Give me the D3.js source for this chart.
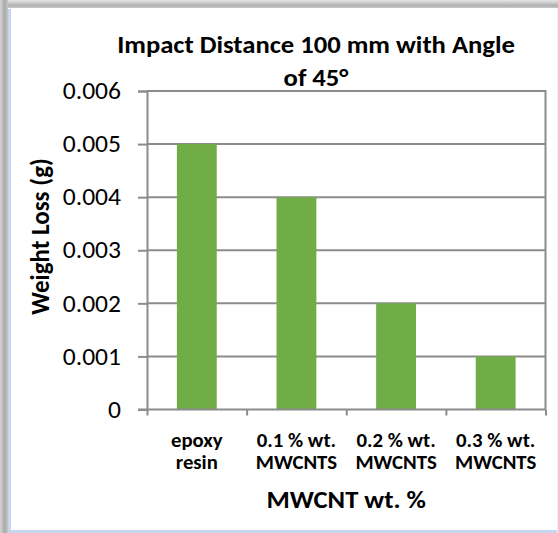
<!DOCTYPE html>
<html>
<head>
<meta charset="utf-8">
<script src="https://cdn.jsdelivr.net/npm/d3@7"></script>
<style>
  html, body { margin: 0; padding: 0; background: #ffffff; }
  svg { display: block; }
  text { font-family: Carlito, Calibri, Lato, "Open Sans", sans-serif; fill: #000; }
</style>
</head>
<body>
<svg id="chart" width="558" height="533"></svg>
<script>
const categories = [["epoxy", "resin"], ["0.1 % wt.", "MWCNTS"], ["0.2 % wt.", "MWCNTS"], ["0.3 % wt.", "MWCNTS"]];
const categoryKeys = ["epoxy resin", "0.1 % wt. MWCNTS", "0.2 % wt. MWCNTS", "0.3 % wt. MWCNTS"];
const weightLoss = [0.005, 0.004, 0.002, 0.001];
const yTicks = [0, 0.001, 0.002, 0.003, 0.004, 0.005, 0.006];
const yTickLabels = ["0", "0.001", "0.002", "0.003", "0.004", "0.005", "0.006"];
const titleLines = ["Impact Distance 100 mm with Angle", "of 45°"];
const yTitle = "Weight Loss (g)";
const xTitle = "MWCNT wt. %";

const svg = d3.select("#chart");
const W = 558, H = 533;
const sx = 1.065; // horizontal stretch of the original picture

// frame / shadow
const defs = svg.append("defs");
const gl = defs.append("linearGradient").attr("id", "shL").attr("x1", 0).attr("x2", 1).attr("y1", 0).attr("y2", 0);
gl.append("stop").attr("offset", 0).attr("stop-color", "#d4d4d4");
gl.append("stop").attr("offset", 0.6).attr("stop-color", "#a9a9a9");
gl.append("stop").attr("offset", 1).attr("stop-color", "#c8c8c8");
const gt = defs.append("linearGradient").attr("id", "shT").attr("x1", 0).attr("x2", 0).attr("y1", 0).attr("y2", 1);
gt.append("stop").attr("offset", 0).attr("stop-color", "#e6e6e6");
gt.append("stop").attr("offset", 0.7).attr("stop-color", "#b0b0b0");
gt.append("stop").attr("offset", 1).attr("stop-color", "#c8c8c8");

svg.append("rect").attr("x", 0).attr("y", 0).attr("width", W).attr("height", 8).attr("fill", "url(#shT)");
svg.append("rect").attr("x", 0).attr("y", 0).attr("width", 8).attr("height", H).attr("fill", "url(#shL)");
svg.append("rect").attr("x", 8).attr("y", 8).attr("width", W - 8).attr("height", H - 8).attr("fill", "#ffffff");
svg.append("line").attr("x1", 9.5).attr("x2", 9.5).attr("y1", 9).attr("y2", H).attr("stroke", "#c6d6ee").attr("stroke-width", 3);
svg.append("line").attr("x1", 9).attr("x2", W).attr("y1", 531.5).attr("y2", 531.5).attr("stroke", "#c6d6ee").attr("stroke-width", 3);
svg.append("line").attr("x1", 557.5).attr("x2", 557.5).attr("y1", 8).attr("y2", H).attr("stroke", "#eef2f8").attr("stroke-width", 1);

// plot area
const plot = { left: 147, right: 545.5, top: 91, bottom: 409.5 };
const x = d3.scaleBand().domain(categoryKeys).range([plot.left, plot.right]).paddingInner(0.6).paddingOuter(0.3);
const xBound = d3.scalePoint().domain(d3.range(categoryKeys.length + 1)).range([plot.left, plot.right]);
const y = d3.scaleLinear().domain([0, 0.006]).range([plot.bottom, plot.top]);

const gridColor = "#8c8c8c";

svg.append("g").selectAll("line").data(yTicks.slice(1)).join("line")
  .attr("x1", plot.left).attr("x2", plot.right)
  .attr("y1", d => y(d)).attr("y2", d => y(d))
  .attr("stroke", gridColor).attr("stroke-width", 2);
svg.append("line").attr("x1", plot.right).attr("x2", plot.right).attr("y1", plot.top - 1).attr("y2", plot.bottom)
  .attr("stroke", gridColor).attr("stroke-width", 2);

// bars
svg.append("g").selectAll("rect").data(weightLoss).join("rect")
  .attr("x", (d, i) => x(categoryKeys[i]))
  .attr("width", x.bandwidth())
  .attr("y", d => y(d))
  .attr("height", d => y(0) - y(d))
  .attr("fill", "#70ad47");

// y axis
const yAxis = d3.axisLeft(y).tickValues(yTicks).tickFormat((d, i) => yTickLabels[i]).tickSize(9).tickPadding(17);
const gy = svg.append("g").attr("transform", `translate(${plot.left},0)`).call(yAxis);
gy.select(".domain").attr("stroke", gridColor).attr("stroke-width", 2);
gy.selectAll(".tick line").attr("stroke", gridColor).attr("stroke-width", 2);
gy.selectAll(".tick text").attr("x", 0).attr("transform", `translate(-26,0) scale(${sx},1)`)
  .style("font-size", "24px").style("font-family", null).attr("fill", "#000");

// x axis (category boundary ticks)
const xAxis = d3.axisBottom(xBound).tickSize(6).tickFormat("");
const gx = svg.append("g").attr("transform", `translate(0,${plot.bottom})`).call(xAxis);
gx.select(".domain").attr("stroke", gridColor).attr("stroke-width", 2).attr("d", `M${plot.left - 9},0H${plot.right}`);
gx.selectAll(".tick line").attr("stroke", gridColor).attr("stroke-width", 2);

// x category labels
const lab = svg.append("g").selectAll("text").data(categories).join("text")
  .attr("transform", (d, i) => `translate(${x(categoryKeys[i]) + x.bandwidth() / 2},0) scale(${sx},1)`)
  .attr("text-anchor", "middle")
  .style("font-size", "19.5px").style("font-weight", "bold");
lab.append("tspan").attr("x", 0).attr("y", 447).text(d => d[0]);
lab.append("tspan").attr("x", 0).attr("y", 469).text(d => d[1]);

// title
svg.append("g").selectAll("text").data(titleLines).join("text")
  .attr("transform", (d, i) => `translate(316,${53 + i * 33}) scale(${sx},1)`)
  .attr("text-anchor", "middle")
  .style("font-size", "25px").style("font-weight", "bold")
  .text(d => d);

// axis titles
svg.append("text").attr("transform", `translate(${(plot.left + plot.right) / 2},508) scale(${sx},1)`)
  .attr("text-anchor", "middle").style("font-size", "25px").style("font-weight", "bold").text(xTitle);
svg.append("text").attr("transform", `translate(48.5,236.5) scale(${sx},1) rotate(-90)`)
  .attr("text-anchor", "middle").style("font-size", "25px").style("font-weight", "bold").text(yTitle);
</script>
</body>
</html>
